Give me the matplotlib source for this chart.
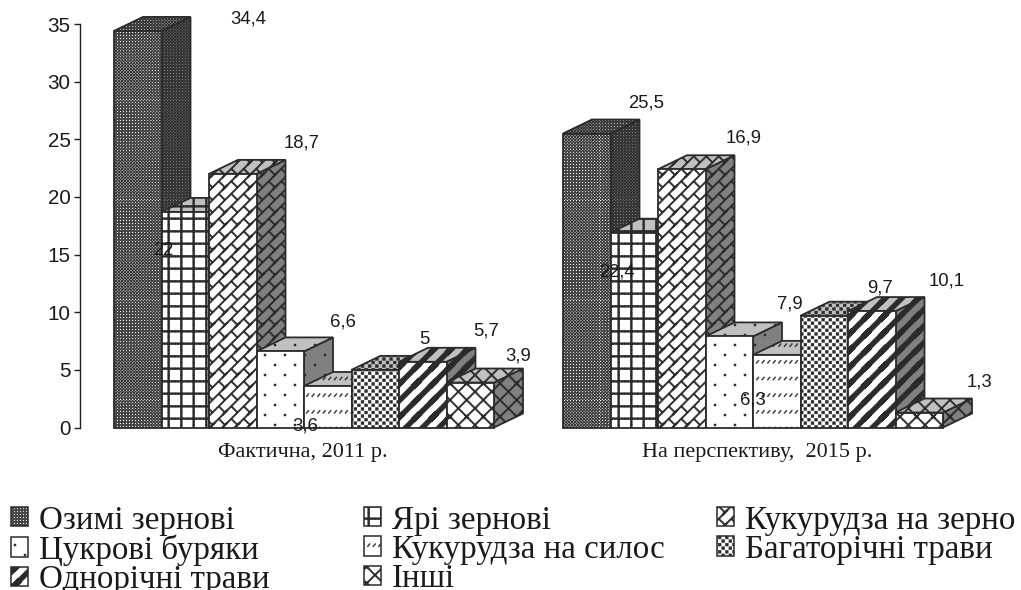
import matplotlib
matplotlib.use("Agg")
import numpy as np
import matplotlib.pyplot as plt
import matplotlib.hatch as mh
from matplotlib.patches import Polygon, Patch
from matplotlib.path import Path

# ---------- data ----------
groups = ["Фактична, 2011 р.", "На перспективу,  2015 р."]
series = ["Озимі зернові", "Ярі зернові", "Кукурудза на зерно", "Цукрові буряки",
          "Кукурудза на силос", "Багаторічні трави", "Однорічні трави", "Інші"]
values_2011 = [34.4, 18.7, 22, 6.6, 3.6, 5, 5.7, 3.9]
values_2015 = [25.5, 16.9, 22.4, 7.9, 6.3, 9.7, 10.1, 1.3]
labels_2011 = ["34,4", "18,7", "22", "6,6", "3,6", "5", "5,7", "3,9"]
labels_2015 = ["25,5", "16,9", "22,4", "7,9", "6,3", "9,7", "10,1", "1,3"]
yticks = [0, 5, 10, 15, 20, 25, 30, 35]

# ---------- layout (pixels in a 1021x590 image) ----------
W, H = 1021, 590
DPI = 100
Y0, Y35 = 427.5, 24.0
BAR = 47.5
DX_PX, DY_PX = 29, 14
START_PX = [114, 563]
GROUP_CX = [303, 757]
# data label centres, pixel offset from the top-centre of the bar's front face (+y is down)
off_2011 = [(110, -12), (116, -69), (-69, 77), (63, -29), (-23, 40), (49, -30), (63, -31), (48, -27)]
off_2015 = [(59, -31), (109, -95), (-65, 103), (61, -32), (-24, 45), (56, -28), (75, -30), (60, -31)]
hatches = ["O", "+", "*", ".", "-", "o", "/", "x"]


# ---------- hatch patterns: each a list of polygons within one unit tile ----------
def band(x0, y0, x1, y1, w):
    d = np.array([x1 - x0, y1 - y0], float)
    n = np.array([-d[1], d[0]]) / np.hypot(*d) * w / 2
    a, b = np.array([x0, y0]), np.array([x1, y1])
    return [a + n, b + n, b - n, a - n]


def square(x, y, s):
    return [(x - s, y - s), (x + s, y - s), (x + s, y + s), (x - s, y + s)]


T = .06
TILES = {
    "O": (33, [square(.25, .25, .25), square(.75, .75, .25)]),
    "+": (8, [band(0, .5, 1, .5, .16), band(.5, 0, .5, 1, .16)]),
    "*": (4, [band(-.1, -.1, 1.1, 1.1, T), band(-.1, .4, .6, 1.1, T), band(.4, -.1, 1.1, .6, T),
              band(.5, .5, .25, .75, T), band(1, 0, .75, .25, T),
              band(.5, 0, .25, .25, T), band(1, .5, .75, .75, T)]),
    ".": (5, [square(.25, .25, .05), square(.75, .75, .05)]),
    "-": (6, [band(.05, .2, .2, .38, .055), band(.38, .2, .53, .38, .055), band(.71, .2, .86, .38, .055)]),
    "o": (14, [square(.25, .25, .2), square(.75, .75, .2)]),
    "/": (6, [band(-.2, -.2, 1.2, 1.2, .3), band(-.2, .8, .2, 1.2, .3), band(.8, -.2, 1.2, .2, .3)]),
    "x": (6, [band(-.1, -.1, 1.1, 1.1, .09), band(-.1, 1.1, 1.1, -.1, .09)]),
}


class TileHatch(mh.HatchPatternBase):
    def __init__(self, hatch, density):
        self.entries = [TILES[c] for c in hatch if c in TILES]
        self.num_vertices = sum(n * n * len(polys) * 5 for n, polys in self.entries)

    def set_vertices_and_codes(self, vertices, codes):
        i = 0
        for n, polys in self.entries:
            for ix in range(n):
                for iy in range(n):
                    for poly in polys:
                        p = (np.array(poly, float) + [ix, iy]) / n
                        vertices[i:i + 4] = p
                        vertices[i + 4] = p[0]
                        codes[i] = Path.MOVETO
                        codes[i + 1:i + 4] = Path.LINETO
                        codes[i + 4] = Path.CLOSEPOLY
                        i += 5


mh._hatch_types[:] = [TileHatch]
plt.rcParams["hatch.linewidth"] = 0.3
plt.rcParams["font.family"] = ["Liberation Sans", "DejaVu Sans"]

fig = plt.figure(figsize=(W / DPI, H / DPI), dpi=DPI)
SP_X = 79.5
ax = fig.add_axes([SP_X / W, 1 - Y0 / H, (W - SP_X) / W, (Y0 - Y35) / H])
ax.set_ylim(0, 35)
ax.set_xlim(SP_X, W)  # horizontal scale in pixels of bar layout
per_unit = (Y0 - Y35) / 35
DY = DY_PX / per_unit
ax.patch.set_visible(False)
for s in ("top", "right", "bottom"):
    ax.spines[s].set_visible(False)
ax.spines["left"].set_linewidth(1.0)
ax.spines["left"].set_color("#222222")
ax.set_yticks(yticks)
ax.tick_params(axis="y", length=4.5, width=1.0, color="#222222", labelsize=14.9, pad=2, labelcolor="#1a1a1a")
ax.set_xticks([])

EDGE = "#2b2b2b"


def bar3d(x, v, hatch):
    kw = dict(closed=True, edgecolor=EDGE, linewidth=1.3, hatch=hatch, clip_on=False, joinstyle="miter")
    sides = [
        ([(x + BAR, 0), (x + BAR + DX_PX, DY), (x + BAR + DX_PX, v + DY), (x + BAR, v)], "#808080"),
        ([(x, v), (x + DX_PX, v + DY), (x + BAR + DX_PX, v + DY), (x + BAR, v)], "#c0c0c0"),
        ([(x, 0), (x + BAR, 0), (x + BAR, v), (x, v)], "white"),
    ]
    for pts, fc in sides:
        ax.add_patch(Polygon(pts, facecolor=fc, **kw))


for g, (start, vals, labs, offs) in enumerate(zip(START_PX, [values_2011, values_2015],
                                                  [labels_2011, labels_2015], [off_2011, off_2015])):
    for i, v in enumerate(vals):
        bar3d(start + i * BAR, v, hatches[i])
    for i, (v, lab, off) in enumerate(zip(vals, labs, offs)):
        ax.annotate(lab, xy=(start + (i + .5) * BAR, v), xytext=(off[0] * 72 / DPI, -off[1] * 72 / DPI),
                    textcoords="offset points", ha="center", va="center", fontsize=13.3,
                    color="#1a1a1a", zorder=20, annotation_clip=False)
    ax.text(GROUP_CX[g], -2.2, groups[g], ha="center", va="center",
            family=["Liberation Serif"], fontsize=16, color="#1a1a1a", clip_on=False)

# ---------- legend ----------
columns = [[0, 3, 6], [1, 4, 7], [2, 5]]
col_x = [11, 364, 717]
for cx, col in zip(col_x, columns):
    handles = [Patch(facecolor="white", edgecolor=EDGE, linewidth=1.1, hatch=hatches[k], label=series[k]) for k in col]
    leg = fig.legend(handles=handles, loc="upper left", bbox_to_anchor=(cx / W, 1 - 505 / H), frameon=False,
                     prop={"family": "Liberation Serif", "size": 23.8}, handlelength=0.52, handleheight=0.52,
                     handletextpad=0.33, labelspacing=-0.04, borderpad=0, borderaxespad=0)
    for t in leg.get_texts():
        t.set_color("#1a1a1a")

fig.savefig("out.png", dpi=DPI)
